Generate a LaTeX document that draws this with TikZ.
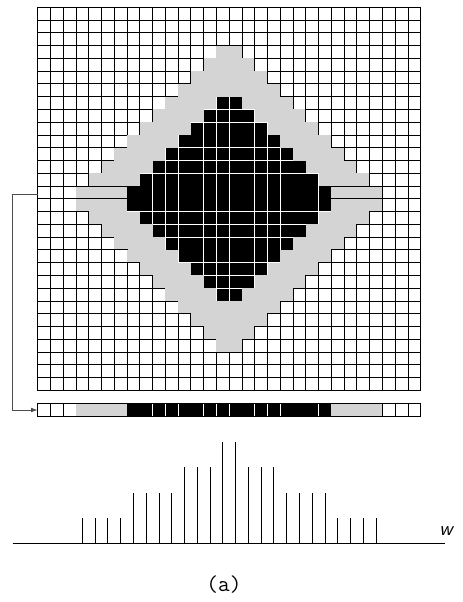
\documentclass[tikz,border=0pt]{standalone}
\usetikzlibrary{arrows.meta}
\begin{document}
\begin{tikzpicture}[x=0.75pt,y=-0.75pt,
  gridline/.style={draw=black,line width=0.7pt},
  graycell/.style={fill=black!17},
  blackcell/.style={fill=black},
  connector/.style={draw=black!70,line width=0.6pt,-{Latex[length=5pt,width=3.5pt]}},
  histbar/.style={draw=black,line width=0.7pt},
  axisline/.style={draw=black,line width=0.7pt}]
\useasboundingbox (0,0) rectangle (463,602);
\def\gx{37.7}\def\gy{7.3}\def\cs{12.77}
% main 30x30 grid
\foreach \r in {0,...,29}{
  \foreach \c in {0,...,29}{
    \pgfmathtruncatemacro{\kr}{\r<15 ? 14-\r : \r-15}
    \pgfmathtruncatemacro{\kc}{\c<15 ? 14-\c : \c-15}
    \pgfmathtruncatemacro{\dd}{\kr+\kc}
    \pgfmathsetmacro{\xa}{\gx+\cs*\c}
    \pgfmathsetmacro{\ya}{\gy+\cs*\r}
    \pgfmathsetmacro{\xb}{\xa+\cs}
    \pgfmathsetmacro{\yb}{\ya+\cs}
    \ifnum\dd<8
      \fill[blackcell] (\xa+0.35,\ya+0.35) rectangle (\xb-0.35,\yb-0.35);
    \else\ifnum\dd<12
      \fill[graycell] (\xa,\ya) rectangle (\xb,\yb);
    \else
      \draw[gridline] (\xa,\ya) rectangle (\xb,\yb);
    \fi\fi
  }
}
\draw[gridline] (37.7,7.3) rectangle (420.8,390.4);
% highlighted row boundaries
\draw[gridline] (37.7,186.08) -- (127.09,186.08) (331.41,186.08) -- (420.8,186.08);
\draw[gridline] (37.7,198.85) -- (127.09,198.85) (331.41,198.85) -- (420.8,198.85);
% extracted strip
\foreach \c in {0,...,29}{
  \pgfmathtruncatemacro{\kc}{\c<15 ? 14-\c : \c-15}
  \pgfmathsetmacro{\xa}{\gx+\cs*\c}
  \pgfmathsetmacro{\xb}{\xa+\cs}
  \ifnum\kc<8
    \fill[blackcell] (\xa+0.35,403.65) rectangle (\xb-0.35,416.35);
  \else\ifnum\kc<12
    \fill[graycell] (\xa,403.3) rectangle (\xb,416.7);
  \else
    \draw[gridline] (\xa,403.3) rectangle (\xb,416.7);
  \fi\fi
}
\draw[gridline] (37.7,403.3) rectangle (420.8,416.7);
% connector
\coordinate (rowstart) at (37.7,194);
\coordinate (stripin) at (37.7,410);
\draw[connector] (rowstart) -- ++(-25,0) |- (stripin);
% histogram
\coordinate (axisL) at (12.7,543.3);
\coordinate (axisR) at (445,543.3);
\draw[axisline] (axisL) -- (axisR);
\foreach \c in {3,...,26}{
  \pgfmathtruncatemacro{\kc}{\c<15 ? 14-\c : \c-15}
  \pgfmathtruncatemacro{\lv}{\kc==0 ? 4 : (\kc<4 ? 3 : (\kc<8 ? 2 : 1))}
  \pgfmathsetmacro{\xm}{\gx+\cs*\c+\cs/2}
  \draw[histbar] (\xm,543.3) -- (\xm,543.3-25.4*\lv);
}
\node[font=\sffamily\itshape\fontsize{15}{15}\selectfont,inner sep=0pt] (wlabel) at (446,531) {w};
\node[font=\ttfamily\fontsize{17}{17}\selectfont,inner sep=0pt] (caption) at (224,585) {(a)};
\end{tikzpicture}
\end{document}
